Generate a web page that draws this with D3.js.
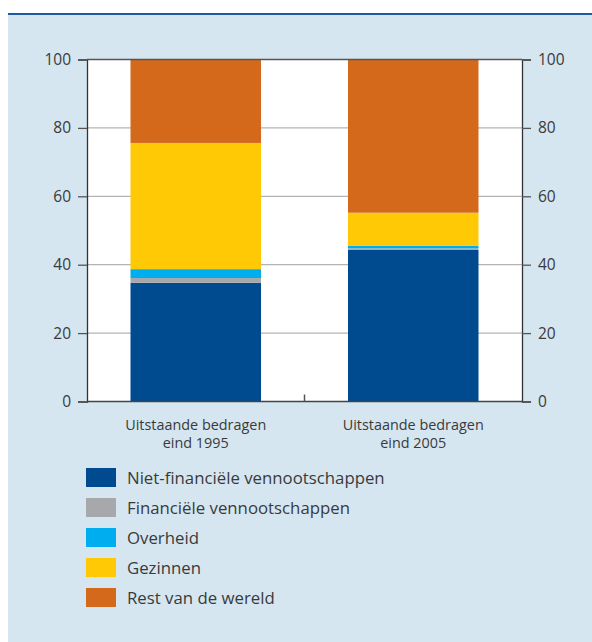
<!DOCTYPE html>
<html>
<head>
<meta charset="utf-8">
<script src="https://cdn.jsdelivr.net/npm/d3@7"></script>
<style>
  body { margin: 0; background: #fff; }
  svg text { font-family: "Open Sans", sans-serif; fill: #3a3a3a; }
</style>
</head>
<body>
<div id="main"></div>
<script>

const w = 592;
const h = 642;

// data (percent of total)
const categories = ["Uitstaande bedragen\neind 1995", "Uitstaande bedragen\neind 2005"];
const seriesNames = ["Niet-financiële vennootschappen","Financiële vennootschappen","Overheid","Gezinnen","Rest van de wereld"];
const nietFin = [34.7, 44.3];
const fin = [1.4, 0.5];
const overheid = [2.6, 0.7];
const gezinnen = [36.9, 9.7];
const rest = [24.4, 44.8];
const yTicks = [0, 20, 40, 60, 80, 100];

const colors = ["#004a8f","#a7a8ab","#00aeef","#ffca05","#d4691c"];

const rows = categories.map((c,i) => ({
    cat: c,
    s0: nietFin[i], s1: fin[i], s2: overheid[i], s3: gezinnen[i], s4: rest[i]
}));
const keys = ["s0","s1","s2","s3","s4"];
const stacked = d3.stack().keys(keys)(rows);

const plotL = 87, plotR = 522, plotT = 59.5, plotB = 401.5;

const svg = d3.select("#main").append("svg").attr("width",w).attr("height",h);

// panel background + top rule
svg.append("rect").attr("x",8).attr("y",14).attr("width",w-8).attr("height",h-14).style("fill","#d5e6f1");
svg.append("line").attr("x1",8).attr("x2",w).attr("y1",14).attr("y2",14)
    .style("stroke","#1d5ca5").style("stroke-width",2);

var xScale = d3.scaleBand()
    .domain(categories)
    .range([plotL,plotR])
    .paddingInner(0.4)
    .paddingOuter(0.2);

var yScale = d3.scaleLinear()
    .domain([0,100])
    .range([plotB,plotT]);

// plot area
svg.append("rect").attr("x",plotL).attr("y",plotT).attr("width",plotR-plotL).attr("height",plotB-plotT)
    .style("fill","#fff");

// gridlines
svg.selectAll(".grid")
    .data(yTicks.filter(d => d>0 && d<100))
    .enter()
    .append("line")
    .attr("class","grid")
    .attr("x1",plotL).attr("x2",plotR)
    .attr("y1",d=>yScale(d)).attr("y2",d=>yScale(d))
    .style("stroke","#b3b3b3").style("stroke-width",1.2);

// bars
svg.selectAll(".series")
    .data(stacked)
    .enter()
    .append("g")
    .attr("class","series")
    .style("fill",(d,i)=>colors[i])
    .selectAll("rect")
    .data(d=>d)
    .enter()
    .append("rect")
    .attr("x",d=>xScale(d.data.cat))
    .attr("y",d=>yScale(d[1]))
    .attr("width",xScale.bandwidth())
    .attr("height",d=>yScale(d[0])-yScale(d[1]));

// axes
const yAxisL = d3.axisLeft(yScale).tickValues(yTicks).tickSize(9).tickPadding(7);
const yAxisR = d3.axisRight(yScale).tickValues(yTicks).tickSize(9).tickPadding(7);

const gl = svg.append("g").attr("transform","translate("+plotL+",0)").call(yAxisL);
const gr = svg.append("g").attr("transform","translate("+plotR+",0)").call(yAxisR);
[gl,gr].forEach(g=>{
    g.select(".domain").style("stroke","#333").style("stroke-width",1.3);
    g.selectAll(".tick line").style("stroke","#555").style("stroke-width",1.3);
    g.selectAll(".tick text").style("font-size","15.5px").style("font-family","Open Sans, sans-serif").style("fill","#3a3a3a");
});

// top and bottom frame lines
svg.append("line").attr("x1",plotL).attr("x2",plotR).attr("y1",plotT).attr("y2",plotT)
    .style("stroke","#555").style("stroke-width",1.3);
svg.append("line").attr("x1",plotL).attr("x2",plotR).attr("y1",plotB).attr("y2",plotB)
    .style("stroke","#444").style("stroke-width",1.5);

// divider tick between categories
svg.append("line").attr("x1",(plotL+plotR)/2).attr("x2",(plotL+plotR)/2)
    .attr("y1",plotB).attr("y2",plotB-7)
    .style("stroke","#555").style("stroke-width",1.5);

// category labels
svg.selectAll(".catlabel")
    .data(categories)
    .enter()
    .append("text")
    .attr("class","catlabel")
    .attr("x",d=>xScale(d)+xScale.bandwidth()/2)
    .attr("y",430)
    .style("text-anchor","middle")
    .style("font-size","14.4px")
    .each(function(d){
        const parts = d.split("\n");
        d3.select(this).selectAll("tspan")
            .data(parts)
            .enter()
            .append("tspan")
            .attr("x",xScale(d)+xScale.bandwidth()/2)
            .attr("dy",(p,i)=>i===0?0:18)
            .text(p=>p);
    });

// legend
const legend = svg.append("g").attr("transform","translate(86,468)");
const item = legend.selectAll(".item")
    .data(seriesNames)
    .enter()
    .append("g")
    .attr("class","item")
    .attr("transform",(d,i)=>"translate(0,"+(i*30)+")");
item.append("rect")
    .attr("width",30).attr("height",19)
    .style("fill",(d,i)=>colors[i]);
item.append("text")
    .attr("x",41).attr("y",16)
    .style("font-size","16.8px")
    .text(d=>d);

</script>
</body>
</html>
